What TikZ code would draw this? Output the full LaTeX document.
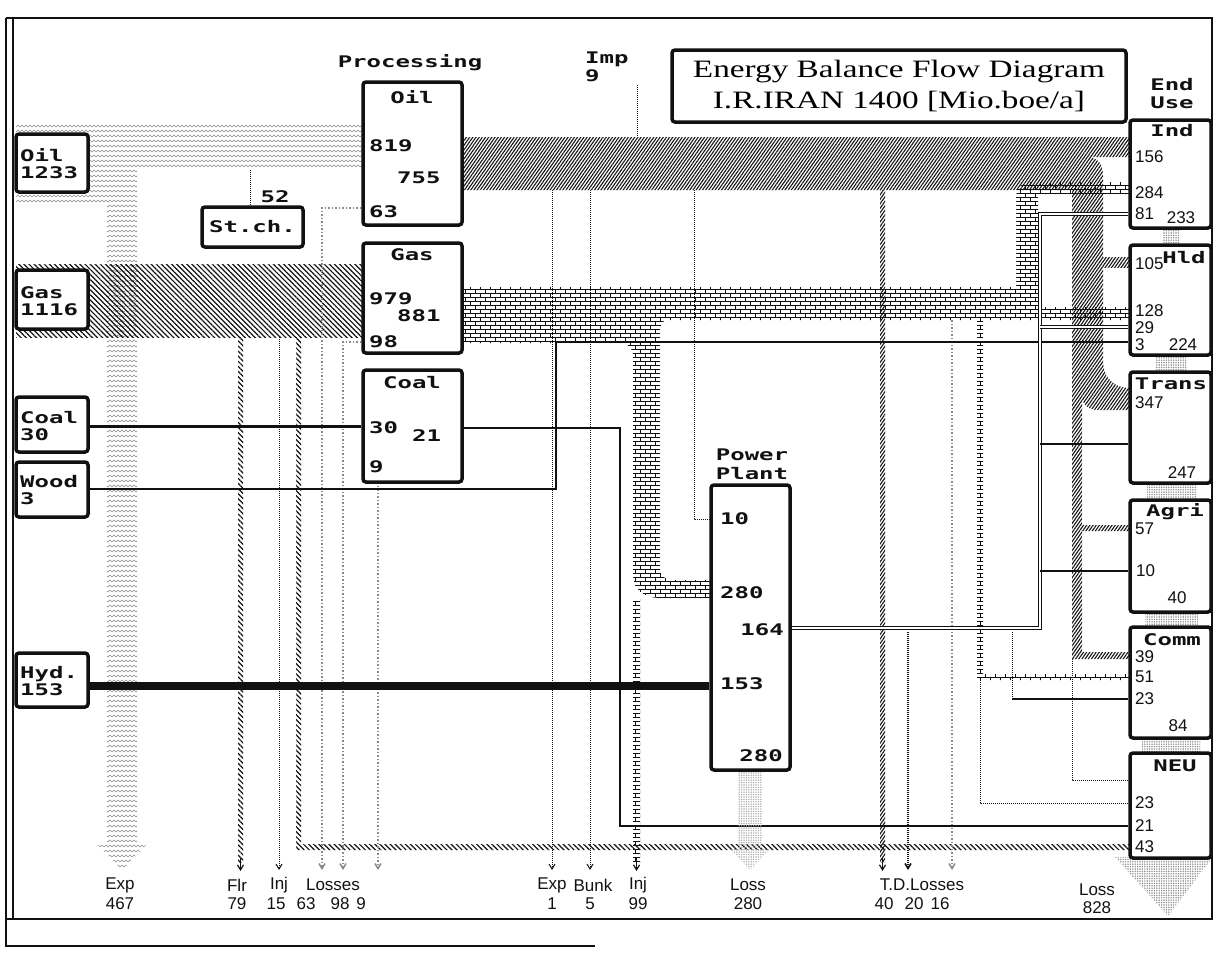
\documentclass[tikz,border=0pt]{standalone}
\usepackage{fontspec}
\setmainfont{Liberation Serif}
\newfontfamily\pixfont[FakeStretch=1.5]{DejaVu Sans Mono}
\newfontfamily\thinfont{Liberation Sans}
\newfontfamily\titlefont[FakeStretch=1.33]{Liberation Serif}
\usepackage{tikz}
\usetikzlibrary{positioning,fit,backgrounds,patterns,patterns.meta,arrows.meta}
\definecolor{ebink}{HTML}{111111}
\definecolor{ebgrey}{HTML}{8A8A8A}
\definecolor{eblight}{HTML}{ADADAD}
% small bricks for gas products
\pgfdeclarepatternformonly{ebbricks}{\pgfpoint{-0.5pt}{-0.5pt}}{\pgfpoint{10.5pt}{8.5pt}}{\pgfpoint{10pt}{8pt}}{
  \pgfsetlinewidth{0.8pt}
  \pgfpathmoveto{\pgfpoint{0pt}{0pt}}\pgfpathlineto{\pgfpoint{10pt}{0pt}}
  \pgfpathmoveto{\pgfpoint{0pt}{4pt}}\pgfpathlineto{\pgfpoint{10pt}{4pt}}
  \pgfpathmoveto{\pgfpoint{0pt}{0pt}}\pgfpathlineto{\pgfpoint{0pt}{4pt}}
  \pgfpathmoveto{\pgfpoint{5pt}{4pt}}\pgfpathlineto{\pgfpoint{5pt}{8pt}}
  \pgfusepath{stroke}}
% little waves for crude oil
\pgfdeclarepatternformonly{ebwaves}{\pgfpoint{-0.5pt}{-0.5pt}}{\pgfpoint{8.5pt}{5.5pt}}{\pgfpoint{8pt}{5pt}}{
  \pgfsetlinewidth{0.6pt}
  \pgfpathmoveto{\pgfpoint{0pt}{1pt}}\pgfpathlineto{\pgfpoint{2pt}{3pt}}
  \pgfpathlineto{\pgfpoint{4pt}{1pt}}\pgfpathlineto{\pgfpoint{6pt}{3pt}}\pgfpathlineto{\pgfpoint{8pt}{1pt}}
  \pgfusepath{stroke}}

\begin{document}
\begin{tikzpicture}[x=1pt,y=-1pt,
  box/.style={draw=ebink,line width=3.5pt,rounded corners=3pt,fill=white,inner sep=0pt},
  pix/.style={font=\pixfont\bfseries\fontsize{16}{17}\selectfont,inner sep=0pt,text=ebink},
  num/.style={font=\thinfont\fontsize{17}{19}\selectfont,inner sep=0pt,text=ebink},
  crudeoil/.style={pattern=ebwaves,pattern color=ebgrey},
  crudegas/.style={pattern={Lines[angle=-45,distance=3.6pt,line width=1.2pt]},pattern color=ebink},
  oilprod/.style={pattern={Lines[angle=55,distance=2.6pt,line width=1.1pt]},pattern color=ebink},
  gasprod/.style={pattern=ebbricks,pattern color=ebink},
  loss/.style={pattern={Dots[distance=2.4pt,radius=0.8pt]},pattern color=ebgrey},
  thin/.style={draw=ebink,line width=1.2pt},
  elec/.style={draw=ebink,line width=1.1pt,double=white,double distance=2pt},
  faint/.style={draw=ebgrey,line width=1.5pt,dotted},
  trace/.style={draw=ebink,line width=1pt,densely dotted},
  tip/.style={-{Straight Barb[length=5pt,width=6pt]}}
]
\useasboundingbox (0,0) rectangle (1216,953);

% frame
\draw[ebink,line width=1.2pt] (6,18) -- (6,946) -- (595,946);
\draw[ebink,line width=1.2pt] (13,18) -- (13,919);
\draw[ebink,line width=1.5pt] (6,18) -- (1212,18) -- (1212,919) -- (6,919);

% headings
\node[box,fit={(672,50) (1126,122)}] (title) {};
\node[font=\titlefont\fontsize{25}{31}\selectfont,align=center,inner sep=0pt] (titletext) at (title.center) {Energy Balance Flow Diagram\\I.R.IRAN 1400 [Mio.boe/a]};
\node[pix] (processing) at (410,63) {Processing};
\node[pix,align=left,anchor=west,font=\pixfont\bfseries\fontsize{16}{18}\selectfont] (imp) at (585,67) {Imp\\9};
\node[pix,align=center,font=\pixfont\bfseries\fontsize{16}{18}\selectfont] (enduse) at (1172,94) {End\\Use};

% primary sources
\node[box,fit={(16,134) (88,192)}] (srcoil) {};
\node[box,fit={(16,270) (88,329)}] (srcgas) {};
\node[box,fit={(16,397) (88,452)}] (srccoal) {};
\node[box,fit={(16,462) (88,517)}] (srcwood) {};
\node[box,fit={(16,653) (88,707)}] (srchyd) {};
\node[pix,align=left,anchor=west] (srcoil-t) at (20,164) {Oil\\1233};
\node[pix,align=left,anchor=west] (srcgas-t) at (20,301) {Gas\\1116};
\node[pix,align=left,anchor=west] (srccoal-t) at (20,426) {Coal\\30};
\node[pix,align=left,anchor=west] (srcwood-t) at (20,490) {Wood\\3};
\node[pix,align=left,anchor=west] (srchyd-t) at (20,681) {Hyd.\\153};

% stock change
\node[box,fit={(202,207) (303,247)}] (stch) {};
\node[pix] (stch-t) at (stch.center) {St.ch.};
\node[pix] (stch-n) at (275,197) {52};

% processing
\node[box,fit={(363,82) (462,225)}] (procoil) {};
\node[pix] (procoil-t) at (412,97) {Oil};
\node[pix,anchor=west] (procoil-a) at (369,146) {819};
\node[pix,anchor=west] (procoil-b) at (397,178) {755};
\node[pix,anchor=west] (procoil-c) at (369,212) {63};
\node[box,fit={(363,243) (462,353)}] (procgas) {};
\node[pix] (procgas-t) at (412,255) {Gas};
\node[pix,anchor=west] (procgas-a) at (369,299) {979};
\node[pix,anchor=west] (procgas-b) at (397,316) {881};
\node[pix,anchor=west] (procgas-c) at (369,342) {98};
\node[box,fit={(363,370) (462,482)}] (proccoal) {};
\node[pix] (proccoal-t) at (412,383) {Coal};
\node[pix,anchor=west] (proccoal-a) at (369,428) {30};
\node[pix,anchor=west] (proccoal-b) at (412,436) {21};
\node[pix,anchor=west] (proccoal-c) at (369,467) {9};

% power plant
\node[box,fit={(711,485) (790,770)}] (pp) {};
\node[pix,align=center,font=\pixfont\bfseries\fontsize{16}{19}\selectfont] (pp-t) at (752,464) {Power\\Plant};
\node[pix,anchor=west] (pp-a) at (720,519) {10};
\node[pix,anchor=west] (pp-b) at (720,593) {280};
\node[pix,anchor=east] (pp-c) at (784,630) {164};
\node[pix,anchor=west] (pp-d) at (720,684) {153};
\node[pix,anchor=east] (pp-e) at (783,756) {280};

% end use
\node[box,fit={(1130,120) (1211,228)}] (endind) {};
\node[box,fit={(1130,245) (1211,355)}] (endhld) {};
\node[box,fit={(1130,372) (1211,483)}] (endtrans) {};
\node[box,fit={(1130,500) (1211,612)}] (endagri) {};
\node[box,fit={(1130,627) (1211,738)}] (endcomm) {};
\node[box,fit={(1130,753) (1211,858)}] (endneu) {};
\node[pix] (endind-t) at (1172,131) {Ind};
\node[pix] (endhld-t) at (1184,258) {Hld};
\node[pix] (endtrans-t) at (1171,384) {Trans};
\node[pix] (endagri-t) at (1175,512) {Agri};
\node[pix] (endcomm-t) at (1172,640) {Comm};
\node[pix] (endneu-t) at (1175,766) {NEU};
\node[num,anchor=west] (ind-a) at (1135,157) {156};
\node[num,anchor=west] (ind-b) at (1135,193) {284};
\node[num,anchor=west] (ind-c) at (1135,214) {81};
\node[num] (ind-s) at (1181,218) {233};
\node[num,anchor=west] (hld-a) at (1135,264) {105};
\node[num,anchor=west] (hld-b) at (1135,311) {128};
\node[num,anchor=west] (hld-c) at (1135,328) {29};
\node[num,anchor=west] (hld-d) at (1135,345) {3};
\node[num] (hld-s) at (1183,345) {224};
\node[num,anchor=west] (trans-a) at (1135,403) {347};
\node[num] (trans-s) at (1182,473) {247};
\node[num,anchor=west] (agri-a) at (1135,529) {57};
\node[num,anchor=west] (agri-b) at (1136,571) {10};
\node[num] (agri-s) at (1177,598) {40};
\node[num,anchor=west] (comm-a) at (1135,657) {39};
\node[num,anchor=west] (comm-b) at (1135,677) {51};
\node[num,anchor=west] (comm-c) at (1135,699) {23};
\node[num] (comm-s) at (1178,726) {84};
\node[num,anchor=west] (neu-a) at (1135,803) {23};
\node[num,anchor=west] (neu-b) at (1135,826) {21};
\node[num,anchor=west] (neu-c) at (1135,847) {43};

% outputs at the bottom
\node[num] (exp-t) at (120,885) {Exp};
\node[num] (exp-n) at (120,904) {467};
\node[num] (flr-t) at (237,885) {Flr};
\node[num] (inja-t) at (279,885) {Inj};
\node[num] (lossa-t) at (333,885) {Losses};
\node[num] (flr-n) at (237,904) {79};
\node[num] (inja-n) at (276,904) {15};
\node[num] (lossa-n) at (306,904) {63};
\node[num] (lossb-n) at (340,904) {98};
\node[num] (lossc-n) at (361,904) {9};
\node[num] (expb-t) at (552,885) {Exp};
\node[num] (bunk-t) at (593,885) {Bunk};
\node[num] (injb-t) at (638,885) {Inj};
\node[num] (expb-n) at (552,904) {1};
\node[num] (bunk-n) at (590,904) {5};
\node[num] (injb-n) at (638,904) {99};
\node[num] (ppl-t) at (748,885) {Loss};
\node[num] (ppl-n) at (748,904) {280};
\node[num] (td-t) at (922,885) {T.D.Losses};
\node[num] (td-a) at (884,904) {40};
\node[num] (td-b) at (914,904) {20};
\node[num] (td-c) at (940,904) {16};
\node[num] (eul-t) at (1097,890) {Loss};
\node[num] (eul-n) at (1097,908) {828};

\begin{scope}[on background layer]
% crude oil, export arrow
\fill[crudeoil] (16,122) -- (362,122) -- (362,167) -- (137,167) -- (137,842) -- (149,842)
  -- (122,870) -- (95,842) -- (107,842) -- (107,203) -- (16,203) -- cycle;
\draw[trace] (250,170) -- (stch.north -| 250,0);
% crude gas, flare and feedstock
\fill[crudegas] (16,264) rectangle (362,337);
\fill[crudegas] (238,337) rectangle (243,862);
\fill[crudegas] (296,337) -- (301,337) -- (301,844) -- (1130,844) -- (1130,850) -- (296,850) -- cycle;
\draw[trace,tip] (279,337) -- (279,870);
% processing losses
\draw[faint,tip] (procoil.west |- 0,208) -| (322,870);
\draw[faint,tip] (procgas.west |- 0,342) -| (343,870);
\draw[faint,tip] (378,482) -- (378,870);
% oil products
\fill[oilprod] (462,137) -- (1130,137) -- (1130,157) -- (1086,157)
  .. controls (1098,157) and (1103,164) .. (1103,176) -- (1103,360)
  .. controls (1103,378) and (1114,388) .. (1130,388) -- (1130,410) -- (1098,410)
  .. controls (1088,410) and (1082,404) .. (1082,396) -- (1082,525) -- (1130,525)
  -- (1130,531) -- (1082,531) -- (1082,652) -- (1130,652) -- (1130,659) -- (1072,659)
  -- (1072,190) -- (462,190) -- cycle;
\fill[oilprod] (1103,257) rectangle (1130,267);
\fill[oilprod] (880,190) rectangle (885,862);
\draw[trace] (1072,659) |- (endneu.west |- 0,780);
\draw[trace] (637,85) -- (637,137);
\draw[trace,tip] (552,190) -- (552,870);
\draw[trace,tip] (590,190) -- (590,870);
\draw[trace] (694,190) |- (pp.west |- 0,519);
% gas products
\fill[gasprod] (462,287) -- (1016,287) -- (1016,198) .. controls (1016,188) and (1022,182) .. (1032,182)
  -- (1130,182) -- (1130,194) -- (1038,194) -- (1038,307) -- (1130,307) -- (1130,320) -- (668,320)
  .. controls (662,320) and (660,325) .. (660,332) -- (660,568)
  .. controls (660,576) and (665,580) .. (673,580) -- (711,580) -- (711,598) -- (660,598)
  .. controls (645,598) and (633,590) .. (633,575) -- (633,356)
  .. controls (633,348) and (628,343) .. (620,343) -- (462,343) -- cycle;
\fill[gasprod] (633,598) rectangle (640,862);
\fill[gasprod] (977,320) -- (983,320) -- (983,674) -- (1130,674) -- (1130,680) -- (977,680) -- cycle;
\draw[trace] (980,680) |- (endneu.west |- 0,803);
\draw[faint,tip] (952,320) -- (952,870);
% coal, wood, hydro
\draw[ebink,line width=3pt] (srccoal.east |- 0,426) -- (proccoal.west |- 0,426);
\draw[thin] (proccoal.east |- 0,428) -| (620,826) -- (endneu.west |- 0,826);
\draw[thin] (srcwood.east |- 0,489) -| (556,342) -- (endhld.west |- 0,342);
\draw[ebink,line width=8pt] (srchyd.east |- 0,686) -- (pp.west |- 0,686);
% electricity
\draw[elec] (pp.east |- 0,628) -- (1040,628) -- (1040,214) -- (endind.west |- 0,214);
\draw[elec] (1040,327) -- (endhld.west |- 0,327);
\draw[thin] (1040,444) -- (endtrans.west |- 0,444);
\draw[thin] (1040,571) -- (endagri.west |- 0,571);
\draw[trace] (1012,632) -- (1012,699);
\draw[thin] (1012,699) -- (endcomm.west |- 0,699);
\draw[trace,line width=1.6pt,tip] (908,632) -- (908,870);
% arrow marks of narrow flows
\draw[thin,tip] (240.5,858) -- (240.5,871);
\draw[thin,tip] (636.5,858) -- (636.5,871);
\draw[thin,tip] (882.5,858) -- (882.5,871);
% power plant loss
\fill[loss,pattern color=eblight] (738,770) -- (762,770) -- (762,848) -- (771,848) -- (750,870)
  -- (729,848) -- (738,848) -- cycle;
% end use losses
\fill[loss] (1163,226) rectangle (1180,246);
\fill[loss] (1155,354) rectangle (1187,372);
\fill[loss] (1147,482) rectangle (1197,500);
\fill[loss] (1145,610) rectangle (1198,628);
\fill[loss] (1142,736) rectangle (1200,755);
\fill[loss] (1115,857) -- (1213,857) -- (1168,916) -- cycle;
\end{scope}
\end{tikzpicture}
\end{document}
